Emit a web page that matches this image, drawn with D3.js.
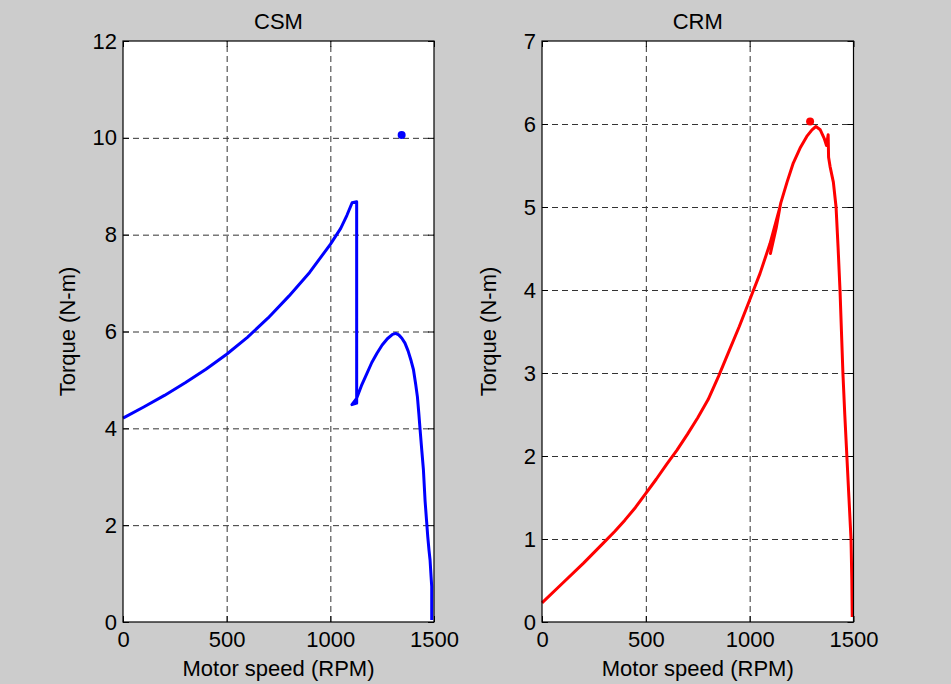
<!DOCTYPE html>
<html>
<head>
<meta charset="utf-8">
<script src="https://d3js.org/d3.v7.min.js"></script>
<style>
  body { margin: 0; background: #cccccc; }
  svg { display: block; }
</style>
</head>
<body>
<div id="vis"></div>
<script>
// Frame
const FRAME_WIDTH = 951;
const FRAME_HEIGHT = 684;

// Data
const xTicks = [0, 500, 1000, 1500];
const csmYTicks = [0, 2, 4, 6, 8, 10, 12];
const crmYTicks = [0, 1, 2, 3, 4, 5, 6, 7];

// CSM curve: rising branch, jump down, second hump, fall to zero
const csmSpeed = [0, 100, 200, 300, 400, 500, 600, 700, 800, 900, 1000, 1050, 1080, 1105, 1127,
                  1127, 1104, 1127, 1150, 1175, 1200, 1225, 1250, 1275, 1300, 1315, 1330, 1345, 1360, 1375,
                  1390, 1401, 1412, 1420, 1427, 1433, 1441, 1449, 1457, 1464, 1470, 1476, 1481, 1485, 1489, 1489];
const csmTorque = [4.21, 4.44, 4.68, 4.94, 5.22, 5.53, 5.88, 6.28, 6.73, 7.22, 7.8, 8.13, 8.4, 8.66, 8.68,
                   4.52, 4.49, 4.62, 4.88, 5.12, 5.36, 5.55, 5.72, 5.85, 5.94, 5.96, 5.93, 5.86, 5.76, 5.6,
                   5.39, 5.21, 4.9, 4.65, 4.3, 3.97, 3.55, 3.14, 2.5, 2.1, 1.76, 1.48, 1.28, 1.0, 0.73, 0.04];
const csmPoint = [1344, 10.06];

// CRM curve: rising branch with a small loop, peak, fall to zero
const crmSpeed = [0, 100, 200, 295, 350, 400, 450, 500, 550, 600, 650, 700, 750, 800, 850, 900, 950, 1000, 1050, 1098, 1146,
                  1128, 1100, 1120, 1150, 1180, 1210, 1245, 1275, 1300, 1319, 1340, 1360, 1370, 1378, 1380,
                  1387, 1403, 1416, 1426, 1435, 1442, 1449, 1458, 1468, 1478, 1488, 1492, 1494];
const crmTorque = [0.23, 0.47, 0.71, 0.95, 1.09, 1.23, 1.38, 1.55, 1.72, 1.9, 2.07, 2.26, 2.46, 2.68, 2.96, 3.26, 3.56, 3.88, 4.2, 4.56, 5.0,
                   4.75, 4.44, 4.7, 5.05, 5.3, 5.53, 5.72, 5.85, 5.93, 5.97, 5.93, 5.82, 5.74, 5.87, 5.6,
                   5.49, 5.3, 5.0, 4.5, 4.0, 3.5, 3.0, 2.5, 2.0, 1.5, 1.0, 0.5, 0.06];
const crmPoint = [1291, 6.03];

const FONT = "'Liberation Sans', Arial, sans-serif";

const SVG = d3.select("#vis")
              .append("svg")
                .attr("width", FRAME_WIDTH)
                .attr("height", FRAME_HEIGHT);

SVG.append("rect")
   .attr("width", FRAME_WIDTH)
   .attr("height", FRAME_HEIGHT)
   .attr("fill", "#cccccc");

function drawPanel(p) {
  const W = p.right - p.left;
  const H = p.bottom - p.top;

  const X = d3.scaleLinear().domain([0, 1500]).range([0, W]);
  const Y = d3.scaleLinear().domain([0, p.ymax]).range([H, 0]);

  const g = SVG.append("g")
               .attr("transform", "translate(" + p.left + "," + p.top + ")");

  g.append("rect")
   .attr("width", W)
   .attr("height", H)
   .attr("fill", "white");

  // dashed grid
  g.append("g")
   .attr("transform", "translate(0," + H + ")")
   .call(d3.axisBottom(X).tickValues(xTicks.slice(1, -1)).tickSize(-H).tickFormat(""))
   .call(a => a.select(".domain").remove())
   .selectAll("line")
     .attr("stroke", "#333")
     .attr("stroke-dasharray", "6,4");
  g.append("g")
   .call(d3.axisLeft(Y).tickValues(p.yTicks.slice(1, -1)).tickSize(-W).tickFormat(""))
   .call(a => a.select(".domain").remove())
   .selectAll("line")
     .attr("stroke", "#333")
     .attr("stroke-dasharray", "6,4");

  // inner ticks on all four sides
  const bottomAx = g.append("g")
   .attr("transform", "translate(0," + H + ")")
   .call(d3.axisBottom(X).tickValues(xTicks).tickSize(-6).tickSizeOuter(0).tickPadding(9).tickFormat(d3.format("d")));
  bottomAx.selectAll("text").attr("font-size", "22px").attr("font-family", FONT).attr("fill", "black");

  g.append("g")
   .call(d3.axisTop(X).tickValues(xTicks).tickSize(-6).tickSizeOuter(0).tickFormat(""));

  const leftAx = g.append("g")
   .call(d3.axisLeft(Y).tickValues(p.yTicks).tickSize(-6).tickSizeOuter(0).tickPadding(6).tickFormat(d3.format("d")));
  leftAx.selectAll("text").attr("font-size", "22px").attr("font-family", FONT).attr("fill", "black");

  g.append("g")
   .attr("transform", "translate(" + W + ",0)")
   .call(d3.axisRight(Y).tickValues(p.yTicks).tickSize(-6).tickSizeOuter(0).tickFormat(""));

  g.selectAll(".domain").remove();

  // curve
  const pts = p.speed.map((s, i) => [s, p.torque[i]]);
  g.append("path")
   .datum(pts)
   .attr("fill", "none")
   .attr("stroke", p.color)
   .attr("stroke-width", 3)
   .attr("stroke-linejoin", "round")
   .attr("d", d3.line().x(d => X(d[0])).y(d => Y(d[1])));

  g.append("circle")
   .attr("cx", X(p.point[0]))
   .attr("cy", Y(p.point[1]))
   .attr("r", 4)
   .attr("fill", p.color);

  // frame box
  g.append("rect")
   .attr("width", W)
   .attr("height", H)
   .attr("fill", "none")
   .attr("stroke", "black")
   .attr("stroke-width", 1.2);

  // labels
  g.append("text")
   .attr("x", W / 2)
   .attr("y", -12)
   .attr("text-anchor", "middle")
   .attr("font-family", FONT)
   .attr("font-size", "22px")
   .text(p.title);

  g.append("text")
   .attr("x", W / 2)
   .attr("y", H + 54)
   .attr("text-anchor", "middle")
   .attr("font-family", FONT)
   .attr("font-size", "22px")
   .text("Motor speed (RPM)");

  g.append("text")
   .attr("transform", "translate(" + p.ylabelX + "," + (H / 2) + ")rotate(-90)")
   .attr("text-anchor", "middle")
   .attr("font-family", FONT)
   .attr("font-size", "22px")
   .text("Torque (N-m)");
}

drawPanel({left: 123, right: 434, top: 41, bottom: 622, ymax: 12, yTicks: csmYTicks,
           speed: csmSpeed, torque: csmTorque, point: csmPoint, color: "#0000ff",
           title: "CSM", ylabelX: -48});
drawPanel({left: 542, right: 853.5, top: 41, bottom: 622, ymax: 7, yTicks: crmYTicks,
           speed: crmSpeed, torque: crmTorque, point: crmPoint, color: "#ff0000",
           title: "CRM", ylabelX: -46});
</script>
</body>
</html>
